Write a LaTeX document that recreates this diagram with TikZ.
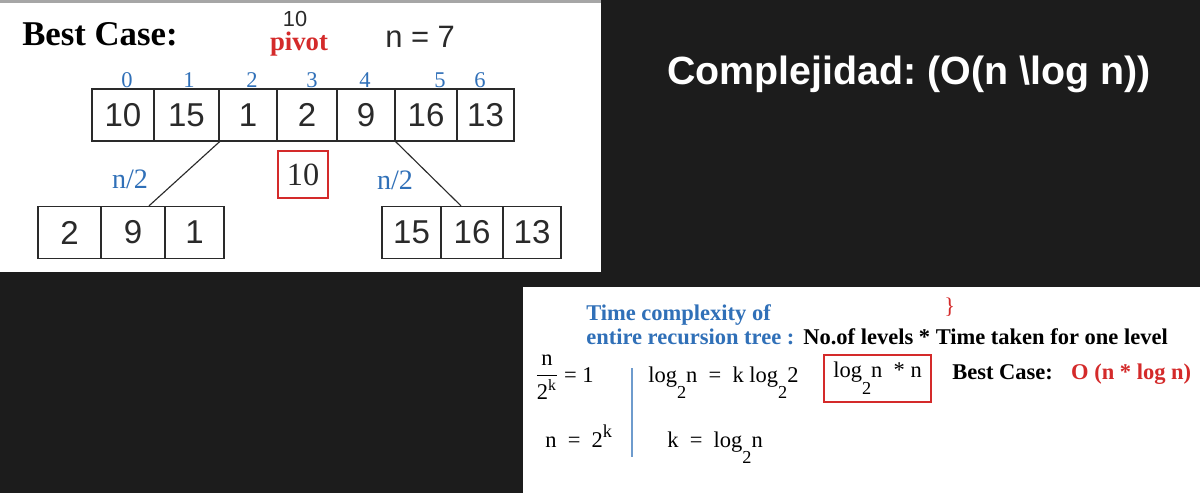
\documentclass[tikz,border=0pt]{standalone}
\usepackage{fontspec}
\usepackage{amsmath}
\setmainfont{Liberation Serif}
\setsansfont{Liberation Sans}
\definecolor{idxblue}{HTML}{3070B8}
\definecolor{pivred}{HTML}{D42A2A}
\definecolor{darkbg}{HTML}{1C1C1C}
\definecolor{inkgray}{HTML}{2A2A2A}
% lowered / raised small figures for the log formulas
\newcommand{\lsub}[1]{\raisebox{-12pt}{\fontsize{13}{13}\selectfont #1}}
\newcommand{\lsup}[1]{\raisebox{7pt}{\fontsize{13}{13}\selectfont #1}}
\begin{document}
\frenchspacing
\begin{tikzpicture}[x=0.025cm, y=-0.025cm,
  cell/.style={draw=inkgray, line width=0.9pt, minimum height=1.3cm, inner sep=0pt,
    text=inkgray, font=\sffamily\fontsize{23.5}{28}\selectfont},
  idx/.style={text=idxblue, font=\fontsize{16}{18}\selectfont},
  half/.style={text=idxblue, font=\fontsize{20}{22}\selectfont},
  link/.style={draw=inkgray, line width=0.8pt},
  note/.style={anchor=base west, inner sep=0pt, text=black, font=\fontsize{16}{19}\selectfont}]
  \useasboundingbox (0,0) rectangle (1200,493);

  % Background and panels
  \fill[darkbg] (0,0) rectangle (1200,493);
  \fill[white] (0,0) rectangle (601,272);
  \fill[gray!70] (0,0) rectangle (601,3);
  \fill[white] (523,287) rectangle (1200,493);

  % Heading of the array panel
  \node[anchor=base west, inner sep=0pt, font=\bfseries\fontsize{24.7}{28}\selectfont] (best) at (22,45) {Best Case:};
  \node[text=inkgray, font=\sffamily\fontsize{15.5}{18}\selectfont] (pv10) at (295,19) {10};
  \node[anchor=base, inner sep=0pt, text=pivred, font=\bfseries\fontsize{19}{22}\selectfont] (pivot) at (299,50) {pivot};
  \node[anchor=base west, inner sep=0pt, text=inkgray, font=\sffamily\fontsize{22}{26}\selectfont] (size) at (385,47) {n = 7};

  % Indices
  \foreach \x [count=\i from 0] in {127,189,252,312,365,440,480}
    \node[idx] (i\i) at (\x,80) {\i};

  % Main array
  \foreach \xa/\xb/\v [count=\i] in {92/154/10,154/219/15,219/277/1,277/337/2,337/395/9,395/457/16,457/514/13}
    \node[cell, minimum width={(\xb-\xa)*0.025cm}] (a\i) at ({(\xa+\xb)/2},115) {\v};

  % Left and right parts
  \foreach \xa/\xb/\v [count=\i] in {38/101/2,101/165/9,165/224/1}
    \node[cell, minimum width={(\xb-\xa)*0.025cm}] (l\i) at ({(\xa+\xb)/2},232.5) {\v};
  \foreach \xa/\xb/\v [count=\i] in {382/441/15,441/503/16,503/561/13}
    \node[cell, minimum width={(\xb-\xa)*0.025cm}] (r\i) at ({(\xa+\xb)/2},232.5) {\v};

  % Pivot box
  \node[draw=pivred, line width=1pt, minimum width=1.25cm, minimum height=1.175cm, inner sep=0pt,
    text=inkgray, font=\fontsize{23}{26}\selectfont] (piv) at (303,174.5) {10};

  % Splits
  \draw[link] (a2.south east) -- ([xshift=0.4cm]l2.north);
  \draw[link] (a5.south east) -- ([xshift=-0.275cm]r2.north);
  \node[half] (hl) at (130,179) {n/2};
  \node[half] (hr) at (395,180) {n/2};

  % Title
  \node[anchor=base west, inner sep=0pt, text=white, font=\sffamily\bfseries\fontsize{28}{32}\selectfont] (title) at (667,84) {Complejidad: (O(n \textbackslash log n))};

  % Complexity panel
  \node[note, text=pivred] (brace) at (944,313) {\}};
  \node[note, text=idxblue, font=\bfseries\fontsize{16}{19}\selectfont] (tc1) at (586,320) {Time complexity of};
  \node[note, text=idxblue, font=\bfseries\fontsize{16}{19}\selectfont] (tc2) at (586,344) {entire recursion tree :};
  \node[note, font=\bfseries\fontsize{16}{19}\selectfont] (tc3) at (803,344) {No.of levels * Time taken for one level};

  \node[note] (eq1) at (535,382) {$\dfrac{\text{n}}{\text{2}^{\text{k}}}$ = 1};
  \node[note] (eq2) at (648,382) {log\lsub{2}n\enspace=\enspace k log\lsub{2}2};
  \node[note] (eq3) at (545,447) {n\enspace=\enspace 2\lsup{k}};
  \node[note] (eq4) at (667,447) {k\enspace=\enspace log\lsub{2}n};
  \draw[idxblue!70, line width=0.8pt] (632,368) -- (632,457);

  \node[draw=pivred, line width=1pt, minimum width=2.675cm, minimum height=1.175cm, inner sep=0pt,
    text height=11pt, text depth=12pt, font=\fontsize{16}{19}\selectfont] (res) at (877.5,378.5) {log\lsub{2}n\enspace * n};
  \node[note, font=\bfseries\fontsize{16}{19}\selectfont] (bc) at (952,379) {Best Case:\hspace{13pt}\textcolor{pivred}{O (n * log n)}};
\end{tikzpicture}
\end{document}
